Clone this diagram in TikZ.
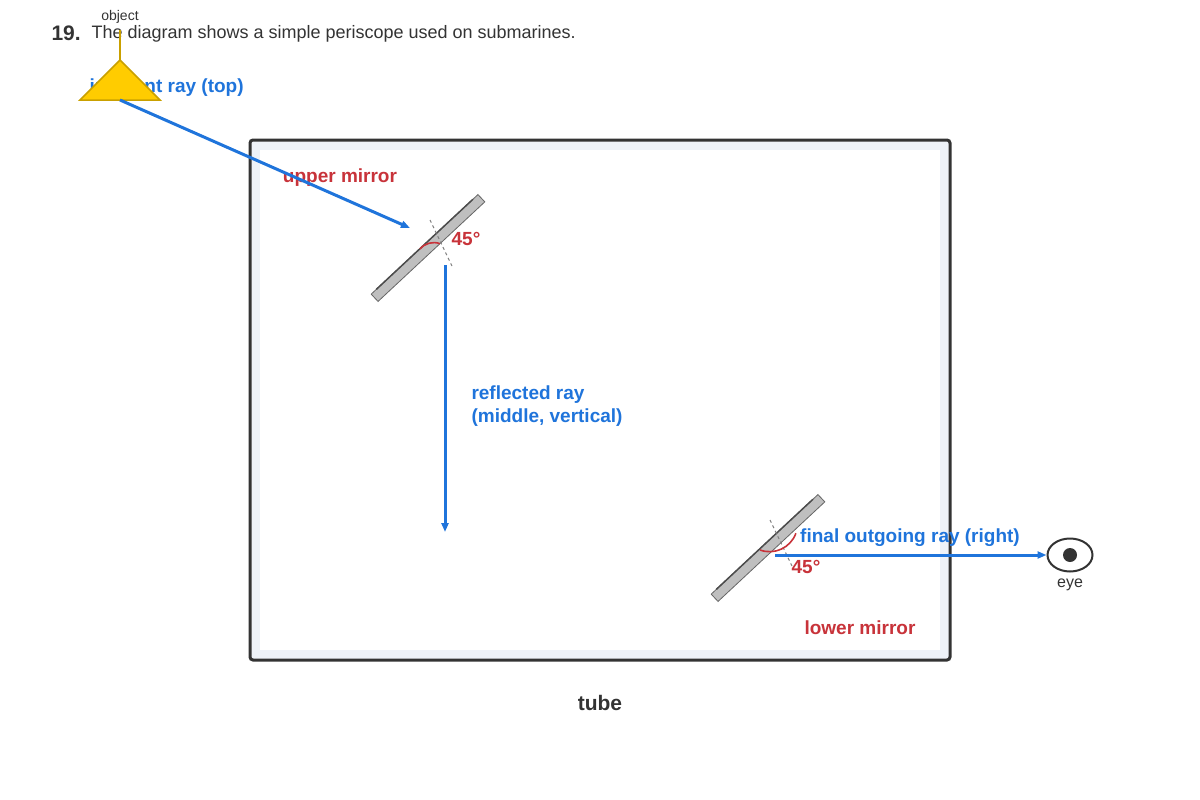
\documentclass[tikz,border=0pt]{standalone}
\usepackage{fontspec}
\setmainfont{Liberation Sans}
\usetikzlibrary{arrows.meta,shapes.geometric}
\definecolor{raycol}{HTML}{1F74DB}
\definecolor{labred}{HTML}{C8333A}
\definecolor{gold}{HTML}{FFCC00}
\definecolor{golddark}{HTML}{C9A000}
\definecolor{tubeedge}{HTML}{333333}
\definecolor{tubein}{HTML}{EEF2F8}
\tikzset{
  ray/.style={raycol,line width=3pt,-{Triangle[length=9pt,width=7pt]}},
  raylab/.style={raycol,font=\fontsize{19}{23}\selectfont\bfseries,align=left},
  redlab/.style={labred,font=\fontsize{19}{23}\selectfont\bfseries},
  mirror/.style={fill=gray!50,draw=gray!80!black,line width=0.8pt},
  normal/.style={gray,dashed,line width=1pt},
  anglearc/.style={labred,line width=1.6pt}
}
\begin{document}
\begin{tikzpicture}[x=1pt,y=-1pt]
  \useasboundingbox (0,0) rectangle (1200,800);
  % header
  \node[anchor=west,font=\fontsize{21}{24}\selectfont\bfseries,text=tubeedge] (num) at (48,33) {19.};
  \node[anchor=west,font=\fontsize{18}{22}\selectfont,text=tubeedge] (title) at (88,34) {The diagram shows a simple periscope used on submarines.};
  % tube
  \draw[tubeedge,line width=3pt,fill=tubein,rounded corners=3pt] (250,140) rectangle (950,660);
  \fill[white] (260,150) rectangle (940,650);
  \node[font=\fontsize{21}{24}\selectfont\bfseries,text=tubeedge] (tube) at (600,703) {tube};
  % object
  \node[raylab,anchor=west] (inclab) at (86,88) {incident ray (top)};
  \node[font=\fontsize{14}{16}\selectfont,text=tubeedge] (objlab) at (120,17) {object};
  \coordinate (objtop) at (120,30);
  \coordinate (objtip) at (120,60);
  \draw[golddark,line width=2pt] (objtop) -- (objtip);
  \draw[golddark,fill=gold,line width=1.5pt] (objtip) -- (80,100) -- (160,100) -- cycle;
  \coordinate (obj) at (120,100);
  % upper mirror
  \begin{scope}[shift={(428,248)},rotate=43]
    \draw[mirror] (-73,-5) rectangle (73,5);
    \draw[black!70,line width=1.5pt] (-66,-5) -- (66,-5);
  \end{scope}
  \coordinate (upm) at (410,228);
  \draw[normal] (430,220) -- (452,266);
  \draw[anglearc] (420,249) arc[start angle=220,end angle=290,radius=18] coordinate (uarc);
  \node[redlab] (ang1) at (466,239) {45°};
  \node[redlab] (upplab) at (340,178) {upper mirror};
  \draw[ray] (obj) -- (upm);
  % reflected ray
  \coordinate (vtop) at (445,265);
  \coordinate (vbot) at (445,532);
  \draw[ray] (vtop) -- (vbot);
  \node[raylab,anchor=west] (midlab) at (468,406) {reflected ray\\(middle, vertical)};
  % lower mirror
  \begin{scope}[shift={(768,548)},rotate=43]
    \draw[mirror] (-73,-5) rectangle (73,5);
    \draw[black!70,line width=1.5pt] (-66,-5) -- (66,-5);
  \end{scope}
  \draw[normal] (770,520) -- (792,566);
  \draw[anglearc] (760,550) arc[start angle=110,end angle=20,radius=28];
  \node[redlab] (ang2) at (806,567) {45°};
  \node[redlab] (lowlab) at (860,628) {lower mirror};
  % outgoing ray and eye
  \coordinate (lowm) at (775,555);
  \node[draw=tubeedge,line width=2pt,ellipse,minimum width=45pt,minimum height=33pt,inner sep=0pt] (eye) at (1070,555) {};
  \fill[tubeedge] (eye.center) circle (7);
  \node[font=\fontsize{16}{18}\selectfont,text=tubeedge] (eyelab) at (1070,585) {eye};
  \draw[ray] (lowm) -- (eye.west);
  \node[raylab] (outlab) at (910,538) {final outgoing ray (right)};
\end{tikzpicture}
\end{document}
